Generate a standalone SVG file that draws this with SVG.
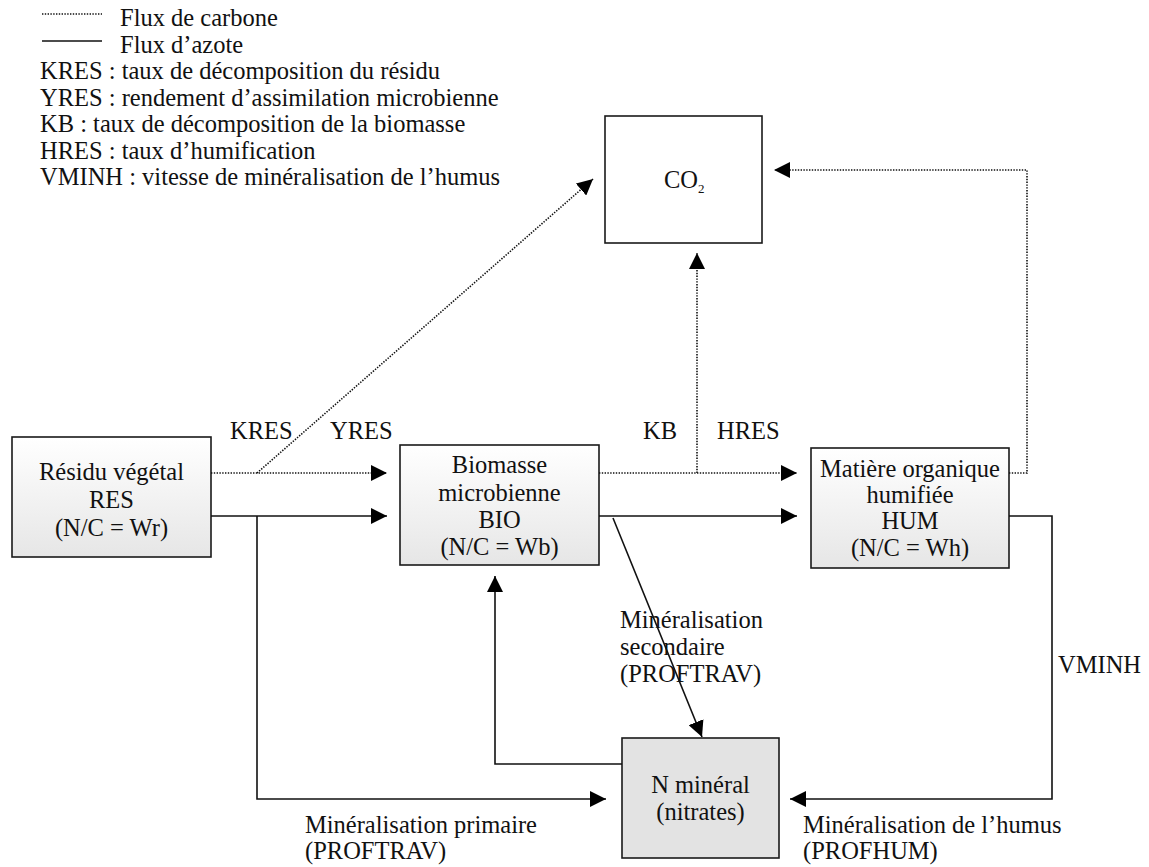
<svg xmlns="http://www.w3.org/2000/svg" width="1149" height="867" viewBox="0 0 1149 867">
<style>
text{font-family:"Liberation Serif","Times New Roman",serif;font-size:24.5px;fill:#111}
.c{text-anchor:middle}
.box{stroke:#1a1a1a;stroke-width:1.6}
.dot{fill:none;stroke:#111;stroke-width:1.6;stroke-dasharray:1.4 1.4}
.sol{fill:none;stroke:#111;stroke-width:1.6}
</style>
<defs>
<linearGradient id="g" x1="0" y1="0" x2="0" y2="1">
<stop offset="0" stop-color="#ffffff"/>
<stop offset="1" stop-color="#e6e6e6"/>
</linearGradient>
<marker id="ah" viewBox="0 0 16 16" refX="16" refY="8" markerWidth="16" markerHeight="16" markerUnits="userSpaceOnUse" orient="auto">
<path d="M0,0 L16,8 L0,16 z" fill="#000"/>
</marker>
</defs>

<g id="legend">
<line x1="42" y1="14" x2="102" y2="14" class="dot"/>
<line x1="42" y1="41" x2="102" y2="41" class="sol"/>
<text x="120" y="26">Flux de carbone</text>
<text x="120" y="52.5">Flux d’azote</text>
<text x="40" y="79">KRES : taux de décomposition du résidu</text>
<text x="40" y="105.5">YRES : rendement d’assimilation microbienne</text>
<text x="40" y="132">KB : taux de décomposition de la biomasse</text>
<text x="40" y="158.5">HRES : taux d’humification</text>
<text x="40" y="185">VMINH : vitesse de minéralisation de l’humus</text>
</g>

<g id="co2">
<rect x="605" y="116" width="157" height="127" fill="#fff" class="box"/>
<text x="664" y="188">CO<tspan font-size="13" dy="5">2</tspan></text>
</g>

<g id="res">
<rect x="12" y="437" width="199" height="120" fill="url(#g)" class="box"/>
<text x="111.5" y="480" class="c">Résidu végétal</text>
<text x="111.5" y="508" class="c">RES</text>
<text x="111.5" y="536" class="c">(N/C = Wr)</text>
</g>

<g id="bio">
<rect x="400" y="445" width="199" height="120" fill="url(#g)" class="box"/>
<text x="499.5" y="473" class="c">Biomasse</text>
<text x="499.5" y="501" class="c">microbienne</text>
<text x="499.5" y="528" class="c">BIO</text>
<text x="499.5" y="555" class="c">(N/C = Wb)</text>
</g>

<g id="hum">
<rect x="811" y="448" width="198" height="120" fill="url(#g)" class="box"/>
<text x="910" y="477" class="c">Matière organique</text>
<text x="910" y="503" class="c">humifiée</text>
<text x="910" y="529" class="c">HUM</text>
<text x="910" y="556" class="c">(N/C = Wh)</text>
</g>

<g id="nmin">
<rect x="622" y="738" width="157" height="120" fill="#e3e3e3" class="box"/>
<text x="700.5" y="793" class="c">N minéral</text>
<text x="700.5" y="820" class="c">(nitrates)</text>
</g>

<g id="connectors">
<line x1="211" y1="473" x2="387" y2="473" class="dot" marker-end="url(#ah)"/>
<line x1="257" y1="473" x2="593" y2="179" class="dot" marker-end="url(#ah)"/>
<line x1="211" y1="516" x2="387" y2="516" class="sol" marker-end="url(#ah)"/>
<polyline points="257,516 257,799 606,799" class="sol" marker-end="url(#ah)"/>
<line x1="599" y1="473" x2="797" y2="473" class="dot" marker-end="url(#ah)"/>
<line x1="697" y1="473" x2="697" y2="253" class="dot" marker-end="url(#ah)"/>
<line x1="599" y1="516" x2="797" y2="516" class="sol" marker-end="url(#ah)"/>
<line x1="613" y1="518" x2="702" y2="737" class="sol" marker-end="url(#ah)"/>
<polyline points="622,764 495,764 495,576" class="sol" marker-end="url(#ah)"/>
<polyline points="1009,473 1027,473 1027,170 774,170" class="dot" marker-end="url(#ah)"/>
<polyline points="1009,516 1052,516 1052,799 790,799" class="sol" marker-end="url(#ah)"/>
</g>

<g id="labels">
<text x="230" y="439">KRES</text>
<text x="330" y="439">YRES</text>
<text x="643" y="439">KB</text>
<text x="717" y="439">HRES</text>
<text x="620" y="628">Minéralisation</text>
<text x="620" y="655">secondaire</text>
<text x="620" y="682">(PROFTRAV)</text>
<text x="1058" y="673">VMINH</text>
<text x="305" y="833">Minéralisation primaire</text>
<text x="305" y="859">(PROFTRAV)</text>
<text x="803" y="833">Minéralisation de l’humus</text>
<text x="803" y="859">(PROFHUM)</text>
</g>
</svg>
